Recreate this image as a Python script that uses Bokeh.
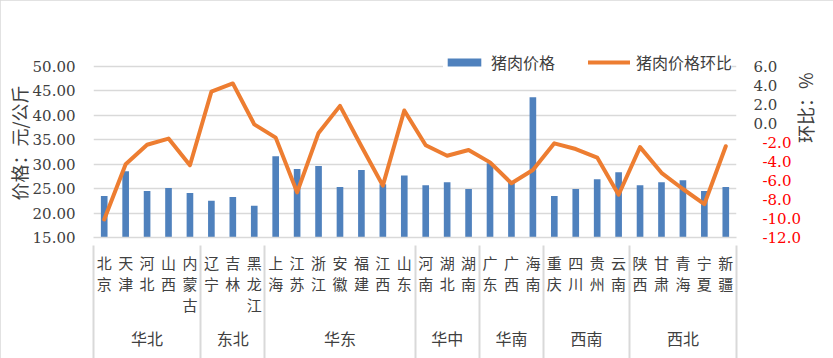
import math
from bokeh.plotting import figure
from bokeh.models import (FactorRange, Range1d, LinearAxis, FixedTicker, NumeralTickFormatter,
                          Legend, LegendItem, ColumnDataSource, Title)
from bokeh.embed import file_html
from bokeh.resources import INLINE

# ---------------- data ----------------
regions = ["华北"] * 5 + ["东北"] * 3 + ["华东"] * 7 + ["华中"] * 3 + ["华南"] * 3 + ["西南"] * 4 + ["西北"] * 5
provinces = ["北京", "天津", "河北", "山西", "内蒙古",
             "辽宁", "吉林", "黑龙江",
             "上海", "江苏", "浙江", "安徽", "福建", "江西", "山东",
             "河南", "湖北", "湖南",
             "广东", "广西", "海南",
             "重庆", "四川", "贵州", "云南",
             "陕西", "甘肃", "青海", "宁夏", "新疆"]
price = [23.5, 28.55, 24.5, 25.1, 24.1,
         22.5, 23.3, 21.5,
         31.6, 29.0, 29.6, 25.3, 28.8, 25.9, 27.7,
         25.7, 26.3, 24.9,
         30.2, 26.2, 43.7,
         23.5, 24.9, 26.9, 28.35,
         25.7, 26.3, 26.7, 24.5, 25.3]
mom = [-10.1, -4.3, -2.25, -1.6, -4.4,
       3.33, 4.2, -0.1,
       -1.5, -7.25, -1.0, 1.84, -2.4, -6.55, 1.35,
       -2.3, -3.4, -2.8,
       -4.1, -6.3, -4.9,
       -2.1, -2.7, -3.6, -7.5,
       -2.5, -5.2, -6.9, -8.5, -2.4]
left_ticks = [15, 20, 25, 30, 35, 40, 45, 50]
right_ticks = [-12, -10, -8, -6, -4, -2, 0, 2, 4, 6]
series_names = ["猪肉价格", "猪肉价格环比"]
left_title = "价格：元/公斤"
right_title = "环比：%"

# ---------------- style ----------------
W, H = 833, 358
EXT = 18                      # empty pixels above the top gridline (room for the legend)
ML, MR, MT, MB = 93, 96, 66 - EXT, 119
plot_h = H - MT - MB
grid_h = plot_h - EXT
BLUE = "#4F81BD"
ORANGE = "#ED7D31"
GRID = "#d9d9d9"
TXT = "#404040"
CJK = "Noto Sans CJK SC"
NUM = "DejaVu Serif"


def try_set(obj, **kw):
    for k, v in kw.items():
        try:
            setattr(obj, k, v)
        except Exception:
            pass


factors = list(zip(regions, ["\n".join(pr) for pr in provinces]))
src = ColumnDataSource(dict(x=factors, price=price, mom=mom))

x_range = FactorRange(*factors, factor_padding=0, group_padding=0, subgroup_padding=0, range_padding=0)
y_lo, y_hi = left_ticks[0], left_ticks[-1]
r_lo, r_hi = right_ticks[0], right_ticks[-1]
y_top = y_hi + EXT * (y_hi - y_lo) / grid_h
r_top = r_hi + EXT * (r_hi - r_lo) / grid_h
p = figure(x_range=x_range, y_range=Range1d(y_lo, y_top), width=W, height=H,
           output_backend="svg", toolbar_location=None,
           min_border_left=ML, min_border_right=MR, min_border_top=MT, min_border_bottom=MB)
p.extra_y_ranges = {"right": Range1d(r_lo, r_top)}
p.outline_line_color = None
p.background_fill_color = "white"
p.border_fill_color = "white"
try_set(p, styles={"outline": "2px solid #d9d9d9", "outline-offset": "-2px"})

bars = p.vbar(x="x", top="price", bottom=y_lo, width=0.31, source=src,
              fill_color=BLUE, line_color=None)
line = p.line(x="x", y="mom", source=src, y_range_name="right",
              line_color=ORANGE, line_width=4, line_join="round", line_cap="round")

# grid
p.xgrid.visible = False
p.ygrid.ticker = FixedTicker(ticks=left_ticks)
p.ygrid.grid_line_color = GRID
p.ygrid.grid_line_width = 1.5

# left axis
ya = p.yaxis[0]
ya.ticker = FixedTicker(ticks=left_ticks)
ya.formatter = NumeralTickFormatter(format="0.00")
ya.axis_line_color = None
ya.major_tick_line_color = None
ya.minor_tick_line_color = None
ya.major_label_standoff = 12
ya.major_label_text_font = NUM
ya.major_label_text_font_size = "15px"
ya.major_label_text_color = TXT

ltitle = Title(text=left_title, align="center", offset=13, standoff=0,
               text_font=CJK, text_font_size="18px", text_font_style="normal",
               text_color=TXT)
try_set(ltitle, standoff=-4)
p.add_layout(ltitle, "left")


def right_axis(ticks, color, standoff):
    ax = LinearAxis(y_range_name="right", ticker=FixedTicker(ticks=ticks),
                    formatter=NumeralTickFormatter(format="0.0"))
    ax.axis_line_color = None
    ax.major_tick_line_color = None
    ax.minor_tick_line_color = None
    ax.major_label_standoff = standoff
    ax.major_label_text_font = NUM
    ax.major_label_text_font_size = "15px"
    ax.major_label_text_color = color
    return ax


# inner right axis: non-negative ticks (dark); outer right axis: negative ticks (red),
# pulled back so that both sets of labels share one column
ra1 = right_axis([t for t in right_ticks if t >= 0], TXT, 11)
ra2 = right_axis([t for t in right_ticks if t < 0], "#FF0000", -24)
ra2.axis_label = right_title
ra2.axis_label_text_font = CJK
ra2.axis_label_text_font_size = "18px"
ra2.axis_label_text_font_style = "normal"
ra2.axis_label_text_color = TXT
ra2.axis_label_text_line_height = 1.0
ra2.axis_label_standoff = 1
try_set(ra2, axis_label_orientation=math.pi / 2)
p.add_layout(ra1, "right")
p.add_layout(ra2, "right")

# x axis (province / region)
xa = p.xaxis[0]
xa.axis_line_color = GRID
xa.axis_line_width = 1.5
xa.major_tick_line_color = None
xa.minor_tick_line_color = None
xa.major_label_standoff = 8
xa.major_label_text_font = CJK
xa.major_label_text_font_size = "15px"
xa.major_label_text_line_height = 1.0
xa.major_label_text_color = TXT
xa.group_text_font = CJK
xa.group_text_font_size = "16px"
xa.group_text_font_style = "normal"
xa.group_text_color = TXT
try_set(xa, group_text_line_height=1.0)
xa.separator_line_color = None

# region separators: ticks of a second bottom axis, reaching up to the plot
bounds = [0]
for i in range(1, len(regions)):
    if regions[i] != regions[i - 1]:
        bounds.append(i)
bounds.append(len(regions))
sep = LinearAxis(ticker=FixedTicker(ticks=bounds),
                 major_label_overrides={b: "" for b in bounds})
sep.axis_line_color = None
sep.minor_tick_line_color = None
sep.major_tick_line_color = GRID
sep.major_tick_line_width = 2
sep.major_tick_in = 107
sep.major_tick_out = 6
sep.major_label_text_font_size = "1px"
sep.major_label_standoff = 0
p.add_layout(sep, "below")

# legend (inside the plot frame, just above the top gridline)
legend = Legend(items=[LegendItem(label=series_names[0], renderers=[bars]),
                       LegendItem(label=series_names[1], renderers=[line])],
                location=(350, 163), orientation="horizontal",
                glyph_width=42, glyph_height=10, label_height=18, label_standoff=6,
                spacing=33, padding=0, margin=0,
                border_line_color=None, background_fill_color="white", background_fill_alpha=1,
                label_text_font=CJK, label_text_font_size="16px", label_text_color=TXT,
                label_text_line_height=1.0)
p.add_layout(legend)

open("out.html", "w").write(file_html(p, INLINE))
